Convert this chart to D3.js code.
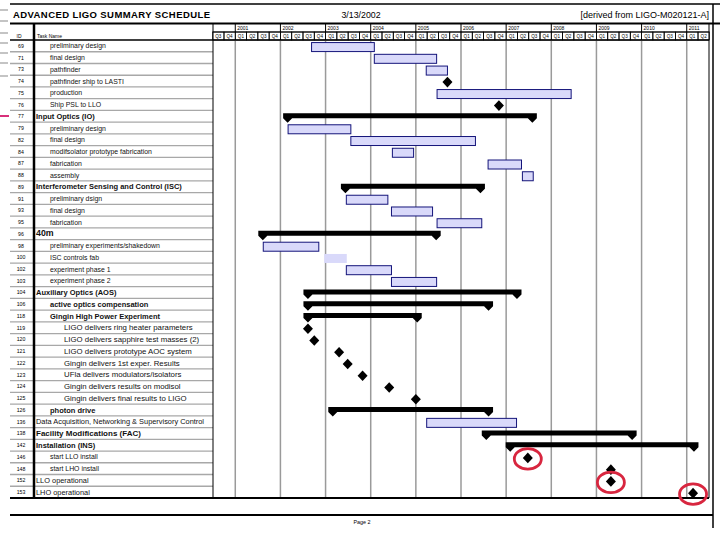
<!DOCTYPE html>
<html>
<head>
<meta charset="utf-8">
<script src="https://cdnjs.cloudflare.com/ajax/libs/d3/7.8.5/d3.min.js"></script>
<style>
body { margin: 0; background: #fff; }
svg { display: block; font-family: "Liberation Sans", Arial, sans-serif; }
</style>
</head>
<body>
<script>
// schedule rows
var ids = [69, 71, 73, 74, 75, 76, 77, 79, 82, 84, 87, 88, 89, 91, 93, 95, 96, 98, 100, 102, 103,
  104, 106, 118, 119, 120, 121, 122, 123, 124, 125, 126, 136, 138, 142, 146, 148, 152, 153];
var taskNames = ["preliminary design", "final design", "pathfinder", "pathfinder ship to LASTI",
  "production", "Ship PSL to LLO", "Input Optics (IO)", "preliminary design", "final design",
  "modifsolator prototype fabrication", "fabrication", "assembly",
  "Interferometer Sensing and Control (ISC)", "preliminary dsign", "final design", "fabrication",
  "40m", "preliminary experiments/shakedown", "ISC controls fab", "experiment phase 1",
  "experiment phase 2", "Auxiliary Optics (AOS)", "active optics compensation",
  "Gingin High Power Experiment", "LIGO delivers ring heater parameters",
  "LIGO delivers sapphire test masses (2)", "LIGO delivers prototype AOC system",
  "Gingin delivers 1st  exper. Results", "UFla delivers modulators/isolators",
  "Gingin delivers results on modisol", "Gingin delivers final results to LIGO", "photon drive",
  "Data Acquisition, Networking & Supervisory Control", "Facility Modifications (FAC)",
  "Installation (INS)", "start LLO install", "start LHO install", "LLO operational", "LHO operational"];
var outline = [2, 2, 2, 2, 2, 2, 1, 2, 2, 2, 2, 2, 1, 2, 2, 2, 1, 2, 2, 2, 2,
  1, 2, 2, 3, 3, 3, 3, 3, 3, 3, 2, 1, 1, 1, 2, 2, 1, 1];
var kinds = ["task", "task", "task", "milestone", "task", "milestone", "summary", "task", "task", "task",
  "task", "task", "summary", "task", "task", "task", "summary", "task", "task", "task", "task",
  "summary", "summary", "summary", "milestone", "milestone", "milestone", "milestone", "milestone",
  "milestone", "milestone", "summary", "task", "summary", "summary", "milestone", "milestone",
  "milestone", "milestone"];
// decimal years
var starts = [2002.69, 2004.08, 2005.23, 2005.70, 2005.47, 2006.84, 2002.06, 2002.17, 2003.56, 2004.48,
  2006.60, 2007.36, 2003.34, 2003.46, 2004.46, 2005.47, 2001.51, 2001.62, 2002.97, 2003.46, 2004.46,
  2002.51, 2002.51, 2002.51, 2002.61, 2002.75, 2003.30, 2003.49, 2003.82, 2004.41, 2005.00,
  2003.06, 2005.24, 2006.46, 2006.99, 2007.48, 2009.32, 2009.32, 2011.14];
var ends = [2004.08, 2005.46, 2005.70, 2005.70, 2008.44, 2006.84, 2007.68, 2003.56, 2006.32, 2004.95,
  2007.34, 2007.60, 2006.53, 2004.38, 2005.37, 2006.46, 2005.55, 2002.85, 2003.47, 2004.46, 2005.46,
  2007.34, 2006.71, 2005.13, 2002.61, 2002.75, 2003.30, 2003.49, 2003.82, 2004.41, 2005.00,
  2006.71, 2007.23, 2009.89, 2011.26, 2007.48, 2009.32, 2009.32, 2011.14];
var years = [2001, 2002, 2003, 2004, 2005, 2006, 2007, 2008, 2009, 2010, 2011];
var quarterLabels = ["Q1", "Q2", "Q3", "Q4"];
var circledIds = [146, 152, 153];

var rows = ids.map(function(id, i) {
  return { id: id, name: taskNames[i], level: outline[i], kind: kinds[i], start: starts[i], end: ends[i] };
});

var W = 720, H = 540;
var svg = d3.select("body").append("svg").attr("width", W).attr("height", H);

var x = d3.scaleLinear().domain([2000.5, 2011.5]).range([212.7, 709.3]);
var y = d3.scaleBand().domain(ids).range([40, 498]);
var bw = y.bandwidth();
function cy(id) { return y(id) + bw / 2; }

// stray marks on the left edge of the scanned slide
[10, 21, 33, 43, 53, 63, 76].forEach(function(v) {
  svg.append("line").attr("x1", 0).attr("x2", 8).attr("y1", v).attr("y2", v)
    .attr("stroke", "#c4c4c4").attr("stroke-width", 2);
});
svg.append("line").attr("x1", 0).attr("x2", 9).attr("y1", 116).attr("y2", 116)
  .attr("stroke", "#d8307a").attr("stroke-width", 2);

// title block
svg.append("line").attr("x1", 10).attr("x2", 720).attr("y1", 4).attr("y2", 4)
  .attr("stroke", "#000").attr("stroke-width", 1.5);
svg.append("text").attr("x", 13).attr("y", 17.5).attr("font-size", 9.5).attr("font-weight", "bold")
  .attr("textLength", 197).text("ADVANCED LIGO SUMMARY SCHEDULE");
svg.append("text").attr("x", 361).attr("y", 17.5).attr("font-size", 8.8).attr("text-anchor", "middle")
  .text("3/13/2002");
svg.append("text").attr("x", 709).attr("y", 17.5).attr("font-size", 9).attr("text-anchor", "end")
  .text("[derived from LIGO-M020121-A]");

// header
var header = svg.append("g");
header.append("line").attr("x1", 10).attr("x2", 720).attr("y1", 23.5).attr("y2", 23.5)
  .attr("stroke", "#000").attr("stroke-width", 2);
header.append("line").attr("x1", x.range()[0]).attr("x2", x.range()[1]).attr("y1", 32).attr("y2", 32)
  .attr("stroke", "#000").attr("stroke-width", 1);
header.append("text").attr("x", 19).attr("y", 37.5).attr("font-size", 5).attr("text-anchor", "middle").text("ID");
header.append("text").attr("x", 37).attr("y", 37.5).attr("font-size", 5).text("Task Name");

header.selectAll(".yr").data(years).enter().append("line")
  .attr("x1", function(d) { return x(d); }).attr("x2", function(d) { return x(d); })
  .attr("y1", 24).attr("y2", 32).attr("stroke", "#000").attr("stroke-width", 1);
header.selectAll(".yrlab").data(years).enter().append("text")
  .attr("x", function(d) { return x(d) + 2; }).attr("y", 30).attr("font-size", 5)
  .text(function(d) { return d; });

var quarters = d3.range(2000.5, 2011.5, 0.25);
header.selectAll(".q").data(quarters).enter().append("rect")
  .attr("x", function(d) { return x(d); }).attr("y", 32)
  .attr("width", x(0.25) - x(0)).attr("height", 8)
  .attr("fill", "none").attr("stroke", "#000").attr("stroke-width", 0.8);
header.selectAll(".qlab").data(quarters).enter().append("text")
  .attr("x", function(d) { return x(d + 0.125); }).attr("y", 38).attr("font-size", 4.6)
  .attr("text-anchor", "middle")
  .text(function(d) { return quarterLabels[Math.round((d - Math.floor(d)) * 4)]; });

// year grid in gantt area
svg.append("g").selectAll("line").data(years).enter().append("line")
  .attr("x1", function(d) { return x(d); }).attr("x2", function(d) { return x(d); })
  .attr("y1", 40).attr("y2", 498).attr("stroke", "#9a9a9a").attr("stroke-width", 1.5);

// table rows
var table = svg.append("g");
table.selectAll(".sep").data(ids.slice(1)).enter().append("line")
  .attr("x1", 10).attr("x2", 213).attr("y1", function(d) { return y(d); }).attr("y2", function(d) { return y(d); })
  .attr("stroke", "#a8a8a8").attr("stroke-width", 1.3);
table.selectAll(".id").data(rows).enter().append("text")
  .attr("x", 21).attr("y", function(d) { return cy(d.id) + 2; }).attr("font-size", 5.2)
  .attr("text-anchor", "middle").text(function(d) { return d.id; });

svg.append("clipPath").attr("id", "nameclip").append("rect")
  .attr("x", 34).attr("y", 40).attr("width", 178).attr("height", 460);
var indent = { 1: 36, 2: 50, 3: 64 };
table.append("g").attr("clip-path", "url(#nameclip)")
  .selectAll("text").data(rows).enter().append("text")
  .attr("x", function(d) { return indent[d.level]; })
  .attr("y", function(d) { return cy(d.id) + 2.6; })
  .attr("font-size", function(d) {
    if (d.id === 96) return 8.8;
    if (d.id === 138) return 8;
    if (d.kind === "summary") return 7.5;
    if (d.level === 3) return 7.8;
    if (d.level === 1) return 7.4;
    return 6.9;
  })
  .attr("font-weight", function(d) { return d.kind === "summary" ? "bold" : "normal"; })
  .attr("fill", "#111")
  .text(function(d) { return d.name; });

// frame lines
var frame = svg.append("g").attr("stroke", "#000");
frame.append("line").attr("x1", 10).attr("x2", 709).attr("y1", 40).attr("y2", 40).attr("stroke-width", 1.5);
frame.append("line").attr("x1", 34).attr("x2", 34).attr("y1", 24).attr("y2", 498).attr("stroke-width", 2.5);
frame.append("line").attr("x1", 213).attr("x2", 213).attr("y1", 24).attr("y2", 498).attr("stroke-width", 1);
frame.append("line").attr("x1", 709).attr("x2", 709).attr("y1", 24).attr("y2", 498).attr("stroke-width", 1);
frame.append("line").attr("x1", 713).attr("x2", 713).attr("y1", 4).attr("y2", 528).attr("stroke-width", 1.5);
frame.append("line").attr("x1", 10).attr("x2", 709).attr("y1", 498).attr("y2", 498).attr("stroke-width", 2);
frame.append("line").attr("x1", 10).attr("x2", 713).attr("y1", 515).attr("y2", 515).attr("stroke-width", 2);
svg.append("text").attr("x", 362).attr("y", 524).attr("font-size", 5.4).attr("text-anchor", "middle").text("Page 2");

// gantt marks
var gantt = svg.append("g");
gantt.selectAll(".bar").data(rows.filter(function(d) { return d.kind === "task"; })).enter().append("rect")
  .attr("x", function(d) { return x(d.start); })
  .attr("y", function(d) { return cy(d.id) - 3.3; })
  .attr("width", function(d) { return x(d.end) - x(d.start); })
  .attr("height", 9)
  .attr("fill", "#d9d9fa")
  .attr("stroke", function(d) { return d.id === 100 ? "none" : "#14147a"; })
  .attr("stroke-width", 1);

var summaries = rows.filter(function(d) { return d.kind === "summary"; });
gantt.selectAll(".sum").data(summaries).enter().append("path")
  .attr("fill", "#000")
  .attr("d", function(d) {
    var x0 = x(d.start), x1 = x(d.end), c = cy(d.id);
    return "M" + x0 + "," + (c - 3) + "H" + x1 + "V" + (c + 2) +
      "L" + (x1 - 4.5) + "," + (c + 6.5) + "L" + (x1 - 9) + "," + (c + 2) +
      "H" + (x0 + 9) + "L" + (x0 + 4.5) + "," + (c + 6.5) + "L" + x0 + "," + (c + 2) + "Z";
  });

var milestones = rows.filter(function(d) { return d.kind === "milestone"; });
gantt.selectAll(".ms").data(milestones).enter().append("path")
  .attr("fill", "#000")
  .attr("d", function(d) {
    var px = x(d.start), c = cy(d.id) + 1;
    return "M" + px + "," + (c - 5.3) + "L" + (px + 5) + "," + c + "L" + px + "," + (c + 5.3) +
      "L" + (px - 5) + "," + c + "Z";
  });

// red hand-drawn highlight circles
gantt.selectAll(".ring").data(rows.filter(function(d) { return circledIds.indexOf(d.id) >= 0; }))
  .enter().append("ellipse")
  .attr("cx", function(d) { return x(d.start); })
  .attr("cy", function(d) { return cy(d.id) + 2; })
  .attr("rx", 13.5).attr("ry", 10.3)
  .attr("fill", "none").attr("stroke", "#d8263f").attr("stroke-width", 2.8);
</script>
</body>
</html>
